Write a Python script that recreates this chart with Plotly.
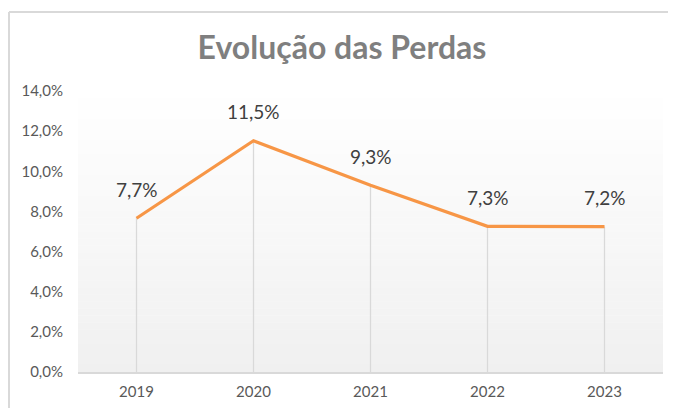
import plotly.graph_objects as go

years = ["2019", "2020", "2021", "2022", "2023"]
losses = [0.0766, 0.1152, 0.0930, 0.0726, 0.0724]
title_text = "Evolução das Perdas"
y_ticks = [0, 0.02, 0.04, 0.06, 0.08, 0.10, 0.12, 0.14]

ORANGE = "#F79646"
GRID = "#D9D9D9"
FONT = "Lato, Open Sans, sans-serif"

# the page body adds an 8px offset, so the figure is 8px smaller
W, H = 668, 400
L, R, T, B = 70, 13, 83, 36
PW, PH = W - L - R, H - T - B

fig = go.Figure()

# drop lines from each point down to the axis
for yr, v in zip(years, losses):
    fig.add_trace(go.Scatter(x=[yr, yr], y=[0, v], mode="lines",
                             line=dict(color=GRID, width=1.3),
                             hoverinfo="skip", showlegend=False))

fig.add_trace(go.Scatter(
    x=years, y=losses, mode="lines",
    line=dict(color=ORANGE, width=3.2),
    showlegend=False,
))

# data labels (x given as category index)
for i, v in enumerate(losses):
    fig.add_annotation(x=i, y=v, xref="x", yref="y",
                       text=f"{v*100:.1f}%".replace(".", ","),
                       showarrow=False, yshift=29,
                       font=dict(family=FONT, size=19, color="#404040"))

# gradient plot background
shapes = []
n = 40
top = (255, 255, 255)
bot = (240, 240, 240)
for i in range(n):
    t = (i + 0.5) / n
    c = tuple(round(top[k] + (bot[k] - top[k]) * t) for k in range(3))
    shapes.append(dict(type="rect", xref="x domain", yref="y domain",
                       x0=0, x1=1, y0=1 - (i + 1) / n, y1=1 - i / n + 0.001,
                       fillcolor=f"rgb{c}", line=dict(width=0), layer="below"))
# outer chart border (top + left)
yb = (H - B - 4) / PH
xb = (1 - L) / PW
shapes.append(dict(type="line", xref="paper", yref="paper",
                   x0=xb, x1=1.1, y0=yb, y1=yb,
                   line=dict(color=GRID, width=2)))
shapes.append(dict(type="line", xref="paper", yref="paper",
                   x0=xb, x1=xb, y0=-0.2, y1=yb,
                   line=dict(color=GRID, width=2)))

fig.update_layout(
    width=W, height=H,
    margin=dict(l=L, r=R, t=T, b=B, autoexpand=False),
    paper_bgcolor="white", plot_bgcolor="rgba(0,0,0,0)",
    separators=",.",
    shapes=shapes,
    title=dict(text=f"<b>{title_text}</b>", x=0.5, xanchor="center",
               y=1 - 40 / H, yanchor="middle",
               font=dict(family=FONT, size=32, color="#7F7F7F")),
    xaxis=dict(type="category", showgrid=False, showline=True, linecolor=GRID, linewidth=1.5,
               ticks="", tickfont=dict(family=FONT, size=15, color="#595959"),
               ticklabelstandoff=5, range=[-0.5, 4.5], fixedrange=True, automargin=False),
    yaxis=dict(range=[0, 0.14], tickvals=y_ticks, tickformat=".1%", showgrid=False,
               zeroline=False, showline=False,
               tickfont=dict(family=FONT, size=15, color="#595959"),
               ticklabelstandoff=14, fixedrange=True, automargin=False),
)

fig.write_html("out.html")
